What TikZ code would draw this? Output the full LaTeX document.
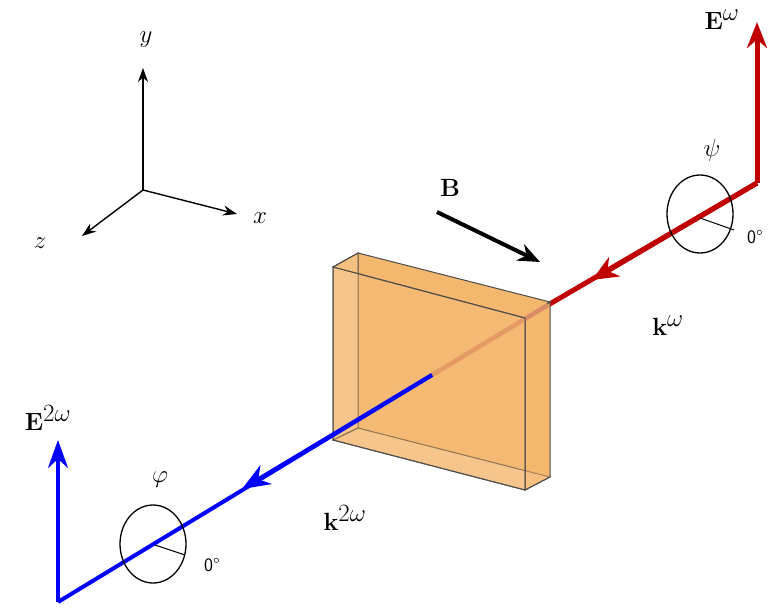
\documentclass[tikz,border=0pt]{standalone}
\usetikzlibrary{arrows.meta}
\definecolor{slabc}{RGB}{242,176,96}
\definecolor{redb}{RGB}{192,0,0}
\definecolor{blueb}{RGB}{0,0,255}
\definecolor{inbeam}{RGB}{220,140,100}
\newcommand{\fs}[1]{\fontsize{#1}{#1}\selectfont}
\begin{document}
\begin{tikzpicture}[x=1pt,y=-1pt,
  axis/.style={-{Stealth[length=14pt,width=10pt]},line width=1.4pt},
  beamred/.style={draw=redb,line width=5pt},
  beamblue/.style={draw=blueb,line width=4pt},
  slabface/.style={fill=slabc,fill opacity=0.55,draw=black!70,line width=1pt}]
\useasboundingbox (0,0) rectangle (783,610);
% axes
\coordinate (o) at (143,190);
\coordinate (ay) at (143,68);
\coordinate (ax) at (237,214);
\coordinate (az) at (82,236);
\draw[axis] (o) -- (ay);
\draw[axis] (o) -- (ax);
\draw[axis] (o) -- (az);
\node[font=\fs{34}] (ly) at (146,40) {$y$};
\node[font=\fs{34}] (lx) at (260,218) {$x$};
\node[font=\fs{34}] (lz) at (40,243) {$z$};
% B
\coordinate (b1) at (437,212);
\coordinate (b2) at (540,262);
\draw[-{Stealth[length=22pt,width=18pt]},line width=4pt] (b1) -- (b2);
\node[font=\fs{36}] (lB) at (450,188) {$\mathbf{B}$};
% red beam
\coordinate (rc) at (757,183);
\coordinate (rE) at (757,22);
\coordinate (rs) at (548,305);
\coordinate (rm) at (592,280);
\draw[beamred,-{Stealth[length=26pt,width=20pt]}] (rc) -- (rE);
\draw[beamred] (rc) -- (rs);
\draw[beamred,-{Stealth[length=26pt,width=22pt,inset=8pt]}] (rc) -- (rm);
% slab back face and sides
\fill[slabc,opacity=0.8] (358,253) -- (550,302) -- (550,477) -- (358,428) -- cycle;
\draw[slabface] (333,267) -- (358,253) -- (550,302) -- (525,318) -- cycle;
\draw[slabface] (333,440) -- (358,428) -- (550,477) -- (525,490) -- cycle;
\draw[slabface] (525,318) -- (550,302) -- (550,477) -- (525,490) -- cycle;
\draw[slabface] (333,267) -- (358,253) -- (358,428) -- (333,440) -- cycle;
% beam inside slab
\coordinate (mid) at (432,375);
\draw[draw=inbeam,line width=4.5pt] (rs) -- (mid);
% front face
\draw[slabface,fill opacity=0.4] (333,267) -- (525,318) -- (525,490) -- (333,440) -- cycle;
% blue beam
\coordinate (bc) at (58,602);
\coordinate (bE) at (58,440);
\coordinate (bm) at (242,489);
\draw[beamblue] (mid) -- (bc);
\draw[beamblue,-{Stealth[length=28pt,width=22pt,inset=9pt]}] (mid) -- (bm);
\draw[beamblue,-{Stealth[length=28pt,width=20pt]}] (bc) -- (bE);
% polarizer circles
\draw[line width=1.3pt] (700,214) ellipse [x radius=33,y radius=39];
\draw[line width=1pt] (700,218) -- (734,230);
\draw[line width=1.3pt] (153,544) ellipse [x radius=33,y radius=39];
\draw[line width=1pt] (155,545) -- (185,555);
\node[font=\fs{34}] (lpsi) at (712,150) {$\psi$};
\node[font=\fs{34}] (lphi) at (160,480) {$\varphi$};
\node[font=\sffamily\fs{19}] (d1) at (755,237) {0\textdegree};
\node[font=\sffamily\fs{19}] (d2) at (212,565) {0\textdegree};
% labels
\node[font=\fs{52}] (lkw) at (668,326) {$\mathbf{k}^{\omega}$};
\node[font=\fs{52}] (lk2) at (345,518) {$\mathbf{k}^{2\omega}$};
\node[font=\fs{36}] (lEw) at (722,20) {$\mathbf{E}^{\omega}$};
\node[font=\fs{36}] (lE2) at (48,418) {$\mathbf{E}^{2\omega}$};
\end{tikzpicture}
\end{document}
